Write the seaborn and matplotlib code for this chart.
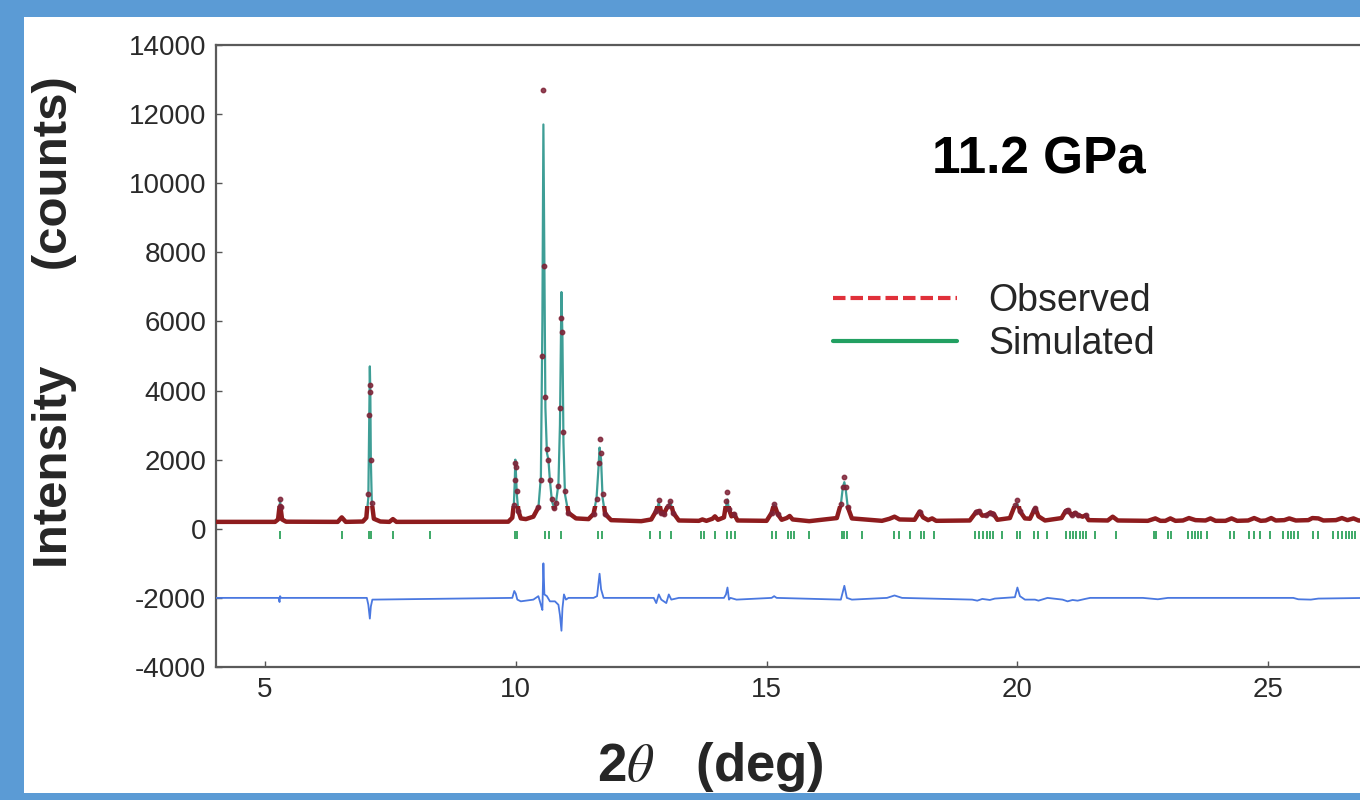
import numpy as np
import pandas as pd
import matplotlib
matplotlib.use("Agg")
import matplotlib.pyplot as plt
import seaborn as sns
from matplotlib.lines import Line2D
from matplotlib.patches import Rectangle
from matplotlib.transforms import Bbox, TransformedBbox

# ---------------- data ----------------
two_theta = [4.00, 5.20, 5.26, 5.29, 5.30, 5.31, 5.34, 5.42,
             6.45, 6.53, 6.61,
             6.95, 7.02, 7.06, 7.08, 7.09, 7.10, 7.11, 7.13, 7.17, 7.30,
             7.48, 7.55, 7.62,
             9.85, 9.93, 9.96, 9.98, 9.99, 10.00, 10.02, 10.05, 10.10, 10.20,
             10.35, 10.45, 10.50, 10.53, 10.55, 10.57, 10.59, 10.62, 10.65, 10.68,
             10.72, 10.76, 10.80, 10.85, 10.88, 10.91, 10.93, 10.95, 10.98, 11.05,
             11.20, 11.45, 11.55, 11.61, 11.65, 11.67, 11.70, 11.73, 11.78, 11.90,
             12.50, 12.70, 12.80, 12.85, 12.90, 12.95, 13.03, 13.08, 13.14, 13.25,
             13.65, 13.72, 13.80, 13.92, 13.97, 14.03, 14.15, 14.20, 14.22, 14.25,
             14.30, 14.35, 14.42, 15.00, 15.10, 15.15, 15.22, 15.30, 15.40, 15.46,
             15.52, 15.85, 16.40, 16.48, 16.52, 16.55, 16.58, 16.62, 16.70, 17.30,
             17.45, 17.55, 17.65, 17.95, 18.05, 18.12, 18.22, 18.30, 18.38, 19.05,
             19.18, 19.23, 19.30, 19.38, 19.46, 19.52, 19.60, 19.85, 19.95, 20.00,
             20.05, 20.15, 20.25, 20.33, 20.36, 20.42, 20.55, 20.88, 20.96, 21.00,
             21.08, 21.15, 21.20, 21.30, 21.36, 21.42, 21.80, 21.90, 22.00, 22.60,
             22.75, 22.85, 22.95, 23.05, 23.15, 23.30, 23.42, 23.55, 23.75, 23.85,
             23.95, 24.15, 24.27, 24.38, 24.60, 24.72, 24.85, 24.95, 25.06, 25.15,
             25.32, 25.42, 25.55, 25.80, 25.88, 26.00, 26.10, 26.35, 26.47, 26.58,
             26.70, 26.80, 27.00]

simulated = [200, 200, 260, 600, 800, 600, 260, 205,
             200, 320, 200,
             210, 300, 900, 3300, 4700, 3900, 2000, 700, 280, 210,
             200, 270, 200,
             205, 300, 650, 1400, 2000, 1700, 1000, 500, 300, 280,
             350, 600, 1500, 6000, 11700, 7500, 3500, 2200, 2000, 1400,
             800, 620, 750, 1300, 3000, 6850, 5500, 2500, 1000, 450,
             300, 280, 420, 900, 1800, 2350, 2000, 900, 420, 250,
             220, 260, 500, 750, 450, 420, 650, 780, 450, 240,
             230, 260, 230, 280, 350, 260, 320, 700, 850, 550,
             350, 420, 240, 230, 450, 700, 420, 260, 300, 360,
             270, 220, 300, 700, 1200, 1350, 1100, 600, 300, 230,
             280, 340, 270, 260, 480, 320, 250, 290, 230, 240,
             480, 500, 380, 380, 460, 430, 260, 300, 650, 720,
             500, 300, 290, 520, 560, 360, 240, 300, 500, 520,
             400, 450, 400, 350, 380, 250, 240, 340, 240, 230,
             290, 230, 230, 290, 230, 240, 300, 250, 240, 290,
             230, 230, 290, 230, 240, 300, 230, 240, 300, 240,
             250, 290, 240, 250, 300, 290, 240, 250, 300, 250,
             290, 240, 230]

observed = [200, 200, 270, 650, 850, 620, 270, 205,
            200, 330, 200,
            210, 320, 1000, 3300, 4150, 3950, 2000, 750, 290, 210,
            200, 280, 200,
            205, 320, 700, 1400, 1900, 1800, 1100, 520, 300, 280,
            350, 620, 1400, 5000, 12700, 7600, 3800, 2300, 2000, 1400,
            850, 600, 760, 1250, 3500, 6100, 5700, 2800, 1100, 460,
            300, 280, 430, 850, 1900, 2600, 2200, 1000, 430, 250,
            220, 270, 520, 820, 460, 430, 660, 800, 460, 240,
            230, 270, 230, 290, 360, 260, 330, 800, 1050, 560,
            360, 430, 240, 230, 460, 720, 430, 260, 310, 370,
            270, 220, 310, 720, 1200, 1500, 1200, 620, 300, 230,
            290, 350, 270, 260, 500, 330, 250, 300, 230, 240,
            490, 510, 380, 390, 470, 440, 260, 310, 680, 830,
            510, 300, 290, 530, 590, 360, 240, 310, 510, 540,
            400, 460, 400, 350, 390, 250, 240, 350, 240, 230,
            300, 230, 230, 300, 230, 240, 310, 250, 240, 300,
            230, 230, 300, 230, 240, 310, 230, 240, 310, 240,
            250, 300, 240, 250, 310, 300, 240, 250, 310, 250,
            300, 240, 230]

diff_theta = [4.00, 5.27, 5.29, 5.30, 5.32, 7.03, 7.06, 7.09, 7.11, 7.14,
              9.93, 9.97, 10.00, 10.03, 10.10, 10.35, 10.45, 10.50, 10.53, 10.55,
              10.57, 10.62, 10.68, 10.78, 10.85, 10.88, 10.91, 10.93, 10.96, 11.00,
              11.05, 11.55, 11.62, 11.67, 11.70, 11.75, 12.75, 12.80, 12.85, 12.90,
              13.00, 13.05, 13.10, 13.25, 14.15, 14.19, 14.22, 14.25, 14.28, 14.40,
              15.10, 15.15, 15.20, 16.48, 16.55, 16.60, 16.70, 17.40, 17.55, 17.70,
              19.10, 19.20, 19.30, 19.45, 19.55, 19.95, 20.00, 20.05, 20.15, 20.35,
              20.42, 20.60, 20.90, 21.00, 21.10, 21.20, 21.35, 21.45, 22.50, 22.80,
              23.00, 25.50, 25.60, 25.85, 26.00, 27.00]
difference = [-2000, -2000, -2120, -1950, -2000, -2000, -2200, -2600, -2250, -2050,
              -2000, -1800, -1880, -2050, -2100, -2050, -1950, -2200, -2350, -1000,
              -1900, -1950, -2100, -2100, -2200, -2500, -2950, -2300, -1900, -2050,
              -2000, -2000, -1950, -1300, -1750, -2000, -2000, -2150, -1900, -2050,
              -2150, -1900, -2050, -2000, -2000, -1900, -1700, -2050, -2000, -2050,
              -2000, -1950, -2000, -2050, -1650, -2000, -2050, -2000, -1930, -2000,
              -2050, -2080, -2030, -2060, -2020, -1980, -1700, -1950, -2050, -2050,
              -2080, -2000, -2050, -2100, -2060, -2080, -2030, -2000, -2000, -2040,
              -2000, -2000, -2040, -2050, -2020, -2000]

reflections = [5.30, 6.53, 7.08, 7.12, 7.55, 8.29, 9.98, 10.02, 10.58, 10.66,
               10.91, 11.63, 11.71, 12.67, 12.87, 13.10, 13.70, 13.75, 13.98, 14.22,
               14.29, 14.36, 15.10, 15.18, 15.42, 15.48, 15.54, 15.84, 16.50, 16.55,
               16.60, 16.91, 17.54, 17.63, 17.85, 18.07, 18.13, 18.33, 19.16, 19.24,
               19.31, 19.39, 19.46, 19.52, 19.70, 20.00, 20.06, 20.34, 20.41, 20.59,
               20.97, 21.04, 21.10, 21.17, 21.24, 21.31, 21.37, 21.55, 21.96, 22.73,
               22.77, 23.00, 23.06, 23.41, 23.48, 23.54, 23.60, 23.67, 23.77, 24.24,
               24.31, 24.62, 24.71, 24.84, 25.04, 25.30, 25.39, 25.46, 25.52, 25.59,
               25.89, 26.00, 26.30, 26.40, 26.47, 26.55, 26.62, 26.68, 26.74]

y_ticks = [-4000, -2000, 0, 2000, 4000, 6000, 8000, 10000, 12000, 14000]
x_ticks = [5, 10, 15, 20, 25]
legend_labels = ["Observed", "Simulated"]
pressure_label = "11.2 GPa"

# ---------------- style ----------------
sns.set_style("ticks")
plt.rcParams["font.family"] = ["Liberation Sans", "DejaVu Sans"]
plt.rcParams["mathtext.fontset"] = "stix"
plt.rcParams["axes.unicode_minus"] = False

C_SIM = "#3E9E96"
C_OBS = "#8E1C1E"
C_DOT = "#7E2236"
C_TICK = "#2EA35C"
C_DIFF = "#4A78E0"
C_FRAME = "#5B9BD5"

fig = plt.figure(figsize=(13.6, 8), dpi=100)
fig.patch.set_facecolor(C_FRAME)
fig.add_artist(Rectangle((24 / 1360, 7 / 800), 1 - 24 / 1360, (793 - 17) / 800,
                         transform=fig.transFigure, facecolor="white",
                         edgecolor="none", zorder=0))

ax = fig.add_axes([216 / 1360, 133 / 800, 1 - 216 / 1360, 622 / 800])
ax.set_facecolor("white")

df = pd.DataFrame({"tt": two_theta, "sim": simulated, "obs": observed})
dd = pd.DataFrame({"tt": diff_theta, "diff": difference})

XMIN, XMAX = 4.023, 26.83
YMIN, YMAX = -4000, 14000

# simulated (teal)
sns.lineplot(data=df, x="tt", y="sim", ax=ax, color=C_SIM, lw=1.6,
             sort=False, estimator=None, zorder=2)
# observed – dark red band near the baseline
sns.lineplot(data=df, x="tt", y="obs", ax=ax, color=C_OBS, lw=3.2,
             sort=False, estimator=None, zorder=3)
red_line = ax.lines[-1]
red_line.set_clip_box(TransformedBbox(Bbox([[XMIN, YMIN], [XMAX, 650]]), ax.transData))
# observed dots on the peaks
peak_pts = df[df["obs"] > 380]
ax.plot(peak_pts["tt"], peak_pts["obs"], ls="none", marker="o", ms=3.2,
        color=C_DOT, alpha=0.85, zorder=4)

# reflection markers
ax.vlines(reflections, -300, -60, color=C_TICK, lw=1.3, zorder=3)

# difference curve
sns.lineplot(data=dd, x="tt", y="diff", ax=ax, color=C_DIFF, lw=1.3,
             sort=False, estimator=None, zorder=3)

ax.set_xlim(XMIN, XMAX)
ax.set_ylim(YMIN, YMAX)
ax.set_xticks(x_ticks)
ax.set_yticks(y_ticks)
ax.tick_params(direction="in", length=4, width=1, colors="#555555",
               labelcolor="#2a2a2a", labelsize=20, pad=7)
ax.set_xlabel("")
ax.set_ylabel("")
for s in ["left", "bottom", "top"]:
    ax.spines[s].set_color("#5a5a5a")
    ax.spines[s].set_linewidth(1.6)
    ax.spines[s].set_visible(True)
ax.spines["right"].set_visible(False)

# annotations
ax.text((1039 - 216) / 1144, (667 - 160) / 622, pressure_label,
        transform=ax.transAxes, fontsize=37,
        fontweight="bold", ha="center", va="center", color="black")

handles = [Line2D([], [], color="#E0303A", ls=(0, (3, 1.2)), lw=3),
           Line2D([], [], color="#22A062", ls="-", lw=3)]
ax.legend(handles, legend_labels, loc="upper left",
          bbox_to_anchor=((814 - 216) / 1144, (667 - 264) / 622),
          frameon=False, fontsize=27, handlelength=3.3, handletextpad=0.85,
          labelspacing=0.2, borderpad=0.0)

fig.text(55 / 1360, 1 - 322 / 800, "Intensity       (counts)", rotation=90,
         fontsize=35.5, fontweight="bold", ha="center", va="center")
fig.text(710 / 1360, 1 - 767 / 800, r"2$\theta$   (deg)",
         fontsize=38, fontweight="bold", ha="center", va="center")

fig.savefig("out.png", dpi=100, facecolor=fig.get_facecolor())
